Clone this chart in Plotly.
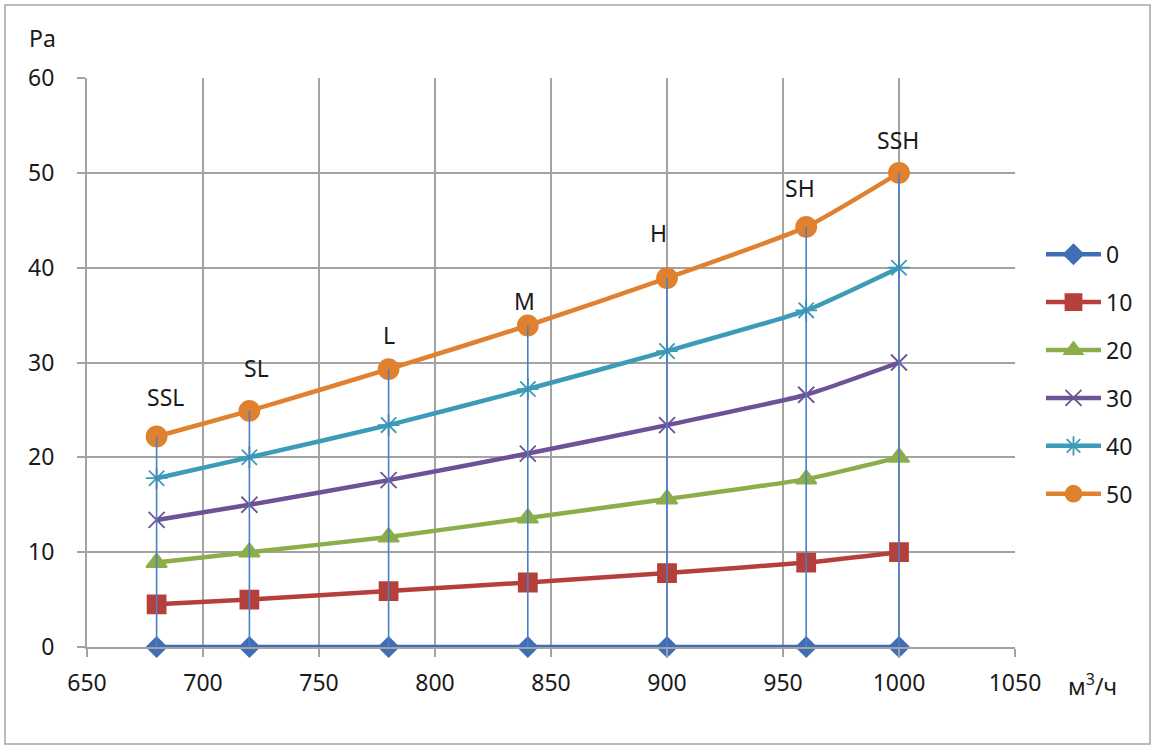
import plotly.graph_objects as go

airflow = [680, 720, 780, 840, 900, 960, 1000]
speed_labels = ["SSL", "SL", "L", "M", "H", "SH", "SSH"]
series_names = ["0", "10", "20", "30", "40", "50"]
p0 = [0, 0, 0, 0, 0, 0, 0]
p10 = [4.5, 5.0, 5.9, 6.8, 7.8, 8.9, 10.0]
p20 = [8.9, 10.0, 11.6, 13.6, 15.6, 17.7, 20.0]
p30 = [13.4, 15.0, 17.6, 20.4, 23.4, 26.6, 30.0]
p40 = [17.8, 20.0, 23.4, 27.2, 31.2, 35.5, 40.0]
p50 = [22.2, 24.9, 29.3, 33.9, 38.9, 44.3, 50.0]
x_ticks = [650, 700, 750, 800, 850, 900, 950, 1000, 1050]
y_ticks = [0, 10, 20, 30, 40, 50, 60]

series_values = [p0, p10, p20, p30, p40, p50]
colors = ["#3F6EB5", "#B5403B", "#8BAE4B", "#6E5296", "#3C9BB6", "#E0812F"]
symbols = ["diamond", "square", "triangle-up", "x-thin-open", "asterisk-open", "circle"]
msizes = [15, 18, 18, 16, 18, 20]
# label placement offsets (pixels), style only
label_dx = [9, 7, 0, -3, -9, -6, -1]
label_dy = [39, 43, 34, 25, 45, 39, 33]

FONT = "Noto Sans"
TXT = "#1a1a1a"
fig = go.Figure()

for i, (name, vals) in enumerate(zip(series_names, series_values)):
    fig.add_trace(go.Scatter(
        x=airflow, y=vals, name=name, mode="lines+markers",
        line=dict(color=colors[i], width=4.5, shape="spline", smoothing=0.5),
        marker=dict(symbol=symbols[i], size=msizes[i], color=colors[i],
                    line=dict(color=colors[i], width=1.8)),
        legendgroup=name, cliponaxis=False,
    ))

# drop lines from 0 up to the top series
dx, dy = [], []
for xv, yv in zip(airflow, p50):
    dx += [xv, xv, None]
    dy += [0, yv, None]
fig.add_trace(go.Scatter(x=dx, y=dy, mode="lines", showlegend=False,
                         line=dict(color="#4A7EC6", width=1.6), hoverinfo="skip"))

for xv, yv, lab, sx, sy in zip(airflow, p50, speed_labels, label_dx, label_dy):
    fig.add_annotation(x=xv, y=yv, text=lab, showarrow=False, xshift=sx, yshift=sy,
                       font=dict(family=FONT, size=23, color=TXT))

fig.add_annotation(xref="paper", yref="paper", x=-0.048, y=1.07, text="Pa",
                   showarrow=False, xanchor="center", yanchor="middle",
                   font=dict(family=FONT, size=23, color=TXT))
fig.add_annotation(xref="paper", yref="paper", x=1.083, y=-0.066, text="м<sup>3</sup>/ч",
                   showarrow=False, xanchor="center", yanchor="middle",
                   font=dict(family=FONT, size=23, color=TXT))

fig.add_shape(type="rect", xref="paper", yref="paper",
              x0=-0.0884, x1=1.1455, y0=-0.1705, y1=1.1283,
              line=dict(color="#A6A6A6", width=1.5), layer="below")

axis_common = dict(showgrid=True, gridcolor="#A3A3A3", gridwidth=2, showline=True,
                   linecolor="#A3A3A3", linewidth=2, ticks="outside", ticklen=8,
                   tickcolor="#A3A3A3", tickwidth=2, zeroline=False,
                   tickfont=dict(family=FONT, size=23, color=TXT))
fig.update_xaxes(range=[650, 1050], tickvals=x_ticks, ticklabelstandoff=6, **axis_common)
fig.update_yaxes(range=[0, 60], tickvals=y_ticks, ticklabelstandoff=18, **axis_common)

fig.update_layout(
    width=1152, height=746,
    margin=dict(l=87, r=137, t=78, b=99),
    paper_bgcolor="white", plot_bgcolor="white",
    legend=dict(x=1.028, y=0.728, xanchor="left", yanchor="top",
                font=dict(family=FONT, size=23, color=TXT),
                tracegroupgap=15, itemwidth=55, bgcolor="rgba(0,0,0,0)"),
    showlegend=True,
)

fig.write_html("out.html", config={"displayModeBar": False},
               post_script="document.body.style.margin='0px';")
